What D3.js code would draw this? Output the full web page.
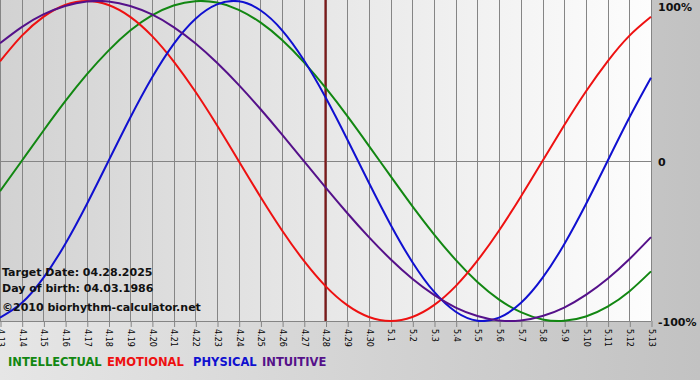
<!DOCTYPE html>
<html><head><meta charset="utf-8">
<script src="https://cdn.jsdelivr.net/npm/d3@7"></script>
<style>html,body{margin:0;padding:0;background:#d0d0d0;}svg{display:block;}</style>
</head><body>
<svg id="chart" width="700" height="380"></svg>
<script>
const dayLabels = ["4.13","4.14","4.15","4.16","4.17","4.18","4.19","4.20","4.21","4.22","4.23","4.24","4.25","4.26","4.27","4.28","4.29","4.30","5.1","5.2","5.3","5.4","5.5","5.6","5.7","5.8","5.9","5.10","5.11","5.12","5.13"];
const physical = [-0.979,-0.888,-0.731,-0.520,-0.270,0,0.270,0.520,0.731,0.888,0.979,0.998,0.942,0.817,0.631,0.398,0.136,-0.136,-0.398,-0.631,-0.817,-0.942,-0.998,-0.979,-0.888,-0.731,-0.520,-0.270,0,0.270,0.520];
const emotional = [0.623,0.782,0.901,0.975,1,0.975,0.901,0.782,0.623,0.434,0.223,0,-0.223,-0.434,-0.623,-0.782,-0.901,-0.975,-1,-0.975,-0.901,-0.782,-0.623,-0.434,-0.223,0,0.223,0.434,0.623,0.782,0.901];
const intellectual = [-0.189,0,0.189,0.372,0.541,0.690,0.815,0.910,0.972,0.999,0.990,0.945,0.866,0.756,0.618,0.458,0.282,0.095,-0.095,-0.282,-0.458,-0.618,-0.756,-0.866,-0.945,-0.990,-0.999,-0.972,-0.910,-0.815,-0.690];
const intuitive = [0.736,0.837,0.916,0.969,0.997,0.997,0.969,0.916,0.837,0.736,0.614,0.476,0.325,0.165,0,-0.165,-0.325,-0.476,-0.614,-0.736,-0.837,-0.916,-0.969,-0.997,-0.997,-0.969,-0.916,-0.837,-0.736,-0.614,-0.476];
const targetIndex = 15;
const yTickValues = [1, 0, -1];
const yTickLabels = ["100%", "0", "-100%"];
const seriesNames = ["INTELLECTUAL","EMOTIONAL","PHYSICAL","INTUITIVE"];
const seriesColors = ["#128712","#ee1111","#1010d0","#55118a"];
const infoLines = ["Target Date: 04.28.2025","Day of birth: 04.03.1986","\u00a92010 biorhythm-calculator.net"];

const svg = d3.select("#chart");
const W = 700, H = 380;
const plot = {left: 0, right: 651, top: 1, bottom: 321};

const defs = svg.append("defs");
const bgGrad = defs.append("linearGradient").attr("id","bgGrad").attr("x1","0").attr("x2","1").attr("y1","0").attr("y2","0");
bgGrad.append("stop").attr("offset","0").attr("stop-color","#e6e6e6");
bgGrad.append("stop").attr("offset","1").attr("stop-color","#c2c2c2");
const plotGrad = defs.append("linearGradient").attr("id","plotGrad").attr("x1","0").attr("x2","1").attr("y1","0").attr("y2","0");
plotGrad.append("stop").attr("offset","0").attr("stop-color","#d2d2d2");
plotGrad.append("stop").attr("offset","1").attr("stop-color","#fdfdfd");
defs.append("clipPath").attr("id","plotClip").append("rect")
  .attr("x",plot.left).attr("y",0).attr("width",plot.right-plot.left+1).attr("height",plot.bottom+1);

svg.append("rect").attr("width",W).attr("height",H).attr("fill","url(#bgGrad)");
svg.append("rect").attr("x",plot.left).attr("y",0).attr("width",plot.right-plot.left).attr("height",plot.bottom)
  .attr("fill","url(#plotGrad)");

const x = d3.scaleLinear().domain([0, dayLabels.length-1]).range([plot.left, plot.right]);
const y = d3.scaleLinear().domain([-1, 1]).range([plot.bottom, plot.top]);

// vertical grid
svg.append("g").selectAll("line").data(dayLabels).join("line")
  .attr("x1",(d,i)=>Math.round(x(i))+0.5).attr("x2",(d,i)=>Math.round(x(i))+0.5)
  .attr("y1",0).attr("y2",plot.bottom)
  .attr("stroke","#858585").attr("stroke-width",1);
// zero line
svg.append("line").attr("x1",plot.left).attr("x2",plot.right).attr("y1",Math.round(y(0))+0.5).attr("y2",Math.round(y(0))+0.5)
  .attr("stroke","#858585");

// x axis
const xAxis = d3.axisBottom(x).tickValues(d3.range(dayLabels.length)).tickFormat(i=>dayLabels[i]).tickSize(6).tickPadding(2);
const gx = svg.append("g").attr("transform",`translate(0,${plot.bottom})`).call(xAxis);
gx.select(".domain").attr("stroke","#858585").attr("d",`M${plot.left},0.5H${plot.right}`);
gx.selectAll(".tick line").attr("stroke","#858585").attr("transform","translate(0.5,0)");
gx.selectAll(".tick text")
  .attr("font-family","DejaVu Sans").attr("font-size","8px").attr("fill","#000")
  .attr("text-anchor","start").attr("y",0).attr("dy","0.33em")
  .attr("transform","translate(0,8) rotate(90)");

// y axis labels on right
const yAxis = d3.axisRight(y).tickValues(yTickValues).tickFormat((d,i)=>yTickLabels[i]).tickSize(0).tickPadding(7);
const gy = svg.append("g").attr("transform",`translate(${plot.right},0)`).call(yAxis);
gy.select(".domain").remove();
gy.selectAll(".tick text").attr("font-family","DejaVu Sans").attr("font-weight","bold").attr("font-size","11px").attr("fill","#111")
  .attr("dy",(d)=> d===1 ? "0.85em" : (d===-1 ? "0.4em" : "0.4em"));

// target line
svg.append("line").attr("x1",x(targetIndex)).attr("x2",x(targetIndex)).attr("y1",0).attr("y2",plot.bottom)
  .attr("stroke","#7d1a1a").attr("stroke-width",2.2);

// curves
const line = d3.line().x((d,i)=>x(i)).y(d=>y(d)).curve(d3.curveNatural);
const series = [intellectual, emotional, physical, intuitive];
const gl = svg.append("g").attr("clip-path","url(#plotClip)");
series.forEach((s,k)=>{
  gl.append("path").datum(s).attr("d",line).attr("fill","none")
    .attr("stroke",seriesColors[k]).attr("stroke-width",2);
});

// info text
svg.append("g").selectAll("text").data(infoLines).join("text")
  .attr("x",2).attr("y",(d,i)=>[276,292,311][i])
  .attr("font-family","DejaVu Sans").attr("font-weight","bold").attr("font-size","11px").attr("fill","#111")
  .text(d=>d);

// legend
const legendX = [8, 107, 193, 262];
svg.append("g").selectAll("text").data(seriesNames).join("text")
  .attr("x",(d,i)=>legendX[i]).attr("y",366)
  .attr("font-family","DejaVu Sans").attr("font-weight","bold").attr("font-size","11.5px")
  .attr("fill",(d,i)=>seriesColors[i])
  .text(d=>d);
</script>
</body></html>
